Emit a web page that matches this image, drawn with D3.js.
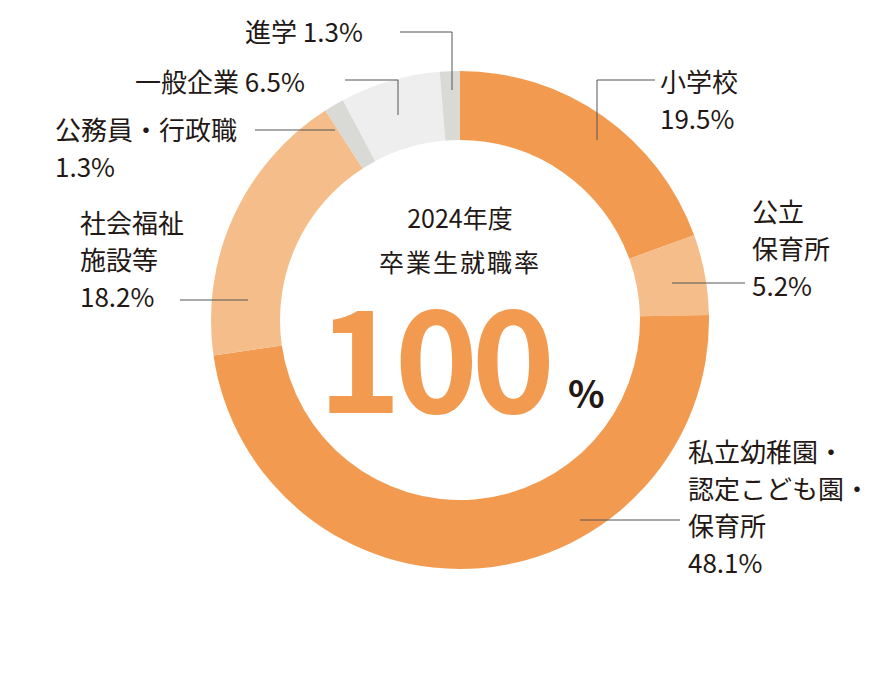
<!DOCTYPE html>
<html><head><meta charset="utf-8">
<script src="https://cdn.jsdelivr.net/npm/d3@7"></script>
<style>body{margin:0;background:#fff}text{font-family:"Noto Sans CJK JP","Noto Sans",sans-serif;fill:#231815}</style>
</head><body><div id="chart"></div>
<script>
var categories = ['小学校', '公立保育所', '私立幼稚園・認定こども園・保育所', '社会福祉施設等', '公務員・行政職', '一般企業', '進学'];
var shares = [19.5, 5.2, 48.1, 18.2, 1.3, 6.5, 1.3];
var colors = ['#f29b50', '#f5bd8a', '#f29b50', '#f5bd8a', '#d9d9d5', '#eeeeee', '#d9d9d5'];
var labelLines = [['小学校', '19.5%'], ['公立', '保育所', '5.2%'], ['私立幼稚園・', '認定こども園・', '保育所', '48.1%'],
  ['社会福祉', '施設等', '18.2%'], ['公務員・行政職', '1.3%'], ['一般企業 6.5%'], ['進学 1.3%']];
var labelPos = [[660, 92], [752, 222], [688, 462], [80, 233], [55, 140], [135, 92], [245, 42]];
var leaders = [[[597, 140], [597, 80], [655, 80]], [[672, 283], [745, 283]], [[580, 520], [680, 520]],
  [[180, 300], [248, 300]], [[255, 130], [335, 130]], [[345, 80], [398, 80], [398, 115]], [[400, 32], [452, 32], [452, 90]]];

var W = 875, H = 692, CX = 460, CY = 320, R = 249, RI = 180;
var svg = d3.select('#chart').append('svg').attr('width', W).attr('height', H);

var pie = d3.pie().sort(null).value(function(d) { return d; });
var arc = d3.arc().innerRadius(RI).outerRadius(R);
svg.append('g').attr('transform', 'translate(' + CX + ',' + CY + ')')
  .selectAll('path').data(pie(shares)).enter().append('path')
  .attr('d', arc).attr('fill', function(d, i) { return colors[i]; });

var line = d3.line();
svg.selectAll('.leader').data(leaders).enter().append('path')
  .attr('d', line).attr('fill', 'none').attr('stroke', '#555').attr('stroke-width', 1);

labelLines.forEach(function(lines, i) {
  var t = svg.append('text').attr('x', labelPos[i][0]).attr('y', labelPos[i][1]).attr('font-size', 26);
  lines.forEach(function(s, j) {
    t.append('tspan').attr('x', labelPos[i][0]).attr('dy', j ? 37 : 0).text(s);
  });
});

svg.append('text').attr('x', 460).attr('y', 228).attr('text-anchor', 'middle').attr('font-size', 25).text('2024年度');
svg.append('text').attr('x', 460).attr('y', 272).attr('text-anchor', 'middle').attr('font-size', 25).attr('letter-spacing', 2).text('卒業生就職率');
svg.append('text').attr('x', 433).attr('y', 413).attr('text-anchor', 'middle').attr('font-size', 142)
  .attr('font-weight', 'bold').attr('font-family', 'Roboto,sans-serif').attr('letter-spacing', -7)
  .style('fill', '#f29b50').text('100');
svg.append('text').attr('x', 568).attr('y', 408).attr('font-size', 38).attr('font-weight', 'bold')
  .attr('font-family', 'Roboto,sans-serif').text('%');
</script></body></html>
